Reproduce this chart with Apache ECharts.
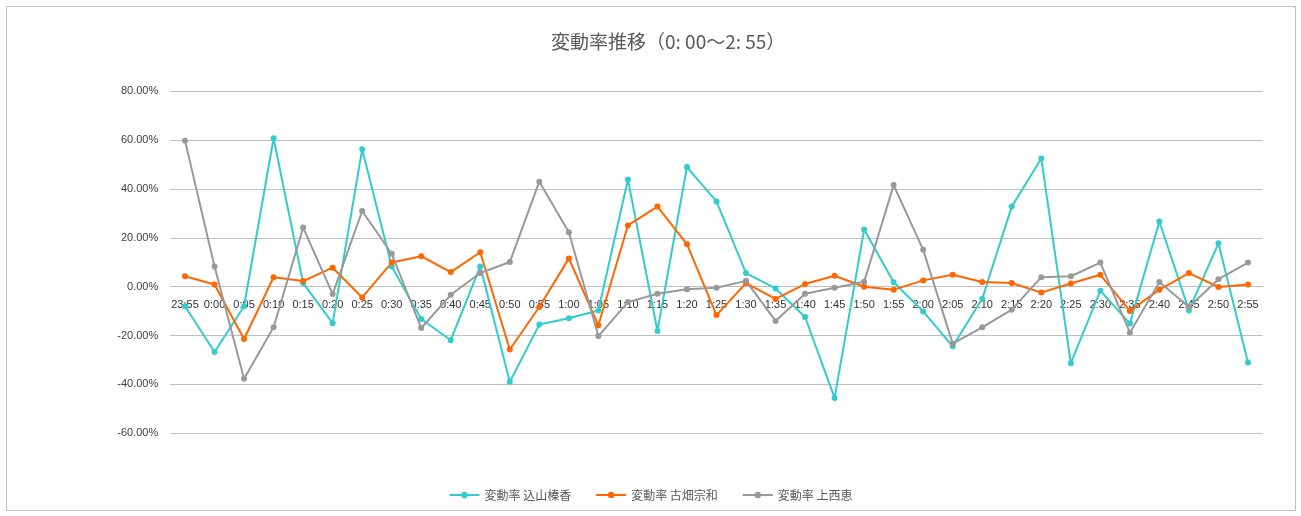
<!DOCTYPE html>
<html>
<head>
<meta charset="utf-8">
<script src="https://cdn.jsdelivr.net/npm/echarts@6/dist/echarts.min.js"></script>
<style>
html,body{margin:0;padding:0;background:#fff;}
#chart{width:1301px;height:516px;}
</style>
</head>
<body>
<div id="chart"></div>
<script>
const categories = ['23:55','0:00','0:05','0:10','0:15','0:20','0:25','0:30','0:35','0:40','0:45','0:50','0:55','1:00','1:05','1:10','1:15','1:20','1:25','1:30','1:35','1:40','1:45','1:50','1:55','2:00','2:05','2:10','2:15','2:20','2:25','2:30','2:35','2:40','2:45','2:50','2:55'];
const seriesNames = ['変動率 込山榛香','変動率 古畑宗和','変動率 上西恵'];
const komiyama = [-8.0,-26.7,-8.0,60.8,1.5,-14.9,56.3,8.3,-13.2,-21.9,8.3,-38.9,-15.5,-12.9,-9.7,43.9,-18.1,49.0,34.9,5.6,-0.7,-12.4,-45.5,23.4,1.8,-10.1,-24.4,-4.9,32.8,52.5,-31.3,-1.6,-15.1,26.7,-9.7,17.8,-31.0];
const furuhata = [4.3,0.9,-21.4,3.9,2.3,7.8,-4.4,9.9,12.5,6.0,14.1,-25.7,-8.3,11.6,-15.8,25.1,32.8,17.4,-11.6,1.5,-5.0,1.1,4.5,0.0,-1.2,2.6,4.9,1.9,1.5,-2.4,1.3,4.9,-9.9,-1.2,5.6,-0.1,0.9];
const kaminishi = [59.8,8.3,-37.7,-16.6,24.2,-3.0,31.0,13.5,-16.9,-3.3,5.6,10.1,43.0,22.3,-20.2,-6.3,-2.9,-1.0,-0.4,2.4,-14.0,-2.9,-0.4,2.0,41.6,15.1,-23.3,-16.6,-9.4,3.9,4.3,9.9,-18.8,1.9,-8.3,3.1,9.9];
const yTicks = {min:-60, max:80, interval:20};
const colors = ['#33CCCC','#FF6600','#999999'];

const chart = echarts.init(document.getElementById('chart'));
const font = '"Liberation Sans","Noto Sans CJK JP",sans-serif';
const mk = (name, data, color) => ({
  name, type:'line', data,
  symbol:'circle', symbolSize:6,
  lineStyle:{color, width:2},
  itemStyle:{color},
  z: 3
});
chart.setOption({
  animation:false,
  title:{
    text:'変動率推移（0: 00～2: 55）',
    left:546, top:27,
    textStyle:{fontSize:19, fontWeight:'normal', color:'#595959', fontFamily:'"Noto Sans CJK JP",sans-serif'}
  },
  graphic:[{
    type:'rect', silent:true, z:-1,
    shape:{x:6.5,y:6.5,width:1289,height:504},
    style:{fill:'none', stroke:'#bfbfbf', lineWidth:1}
  }],
  legend:{
    bottom:10, left:'center', itemWidth:30, itemHeight:8, itemGap:24,
    textStyle:{fontSize:12, color:'#595959', fontFamily:'"Noto Sans CJK JP",sans-serif'},
    data:seriesNames
  },
  grid:{left:170.25, right:38.25, top:91.3, bottom:82.7, containLabel:false},
  xAxis:{
    type:'category', data:categories, boundaryGap:true,
    position:'bottom', offset:-147,
    axisLine:{show:true, onZero:false, lineStyle:{color:'#bfbfbf', width:1}},
    axisTick:{show:false},
    axisLabel:{interval:0, margin:13, fontSize:11, color:'#333333', fontFamily:font},
    splitLine:{show:false}
  },
  yAxis:{
    type:'value', min:yTicks.min, max:yTicks.max, interval:yTicks.interval,
    axisLine:{show:false}, axisTick:{show:false},
    axisLabel:{fontSize:11, color:'#404040', margin:12, fontFamily:font,
      formatter:v=>v.toFixed(2)+'%'},
    splitLine:{lineStyle:{color:'#bfbfbf', width:1}}
  },
  series:[
    mk(seriesNames[0], komiyama, colors[0]),
    mk(seriesNames[1], furuhata, colors[1]),
    mk(seriesNames[2], kaminishi, colors[2])
  ]
});
</script>
</body>
</html>
